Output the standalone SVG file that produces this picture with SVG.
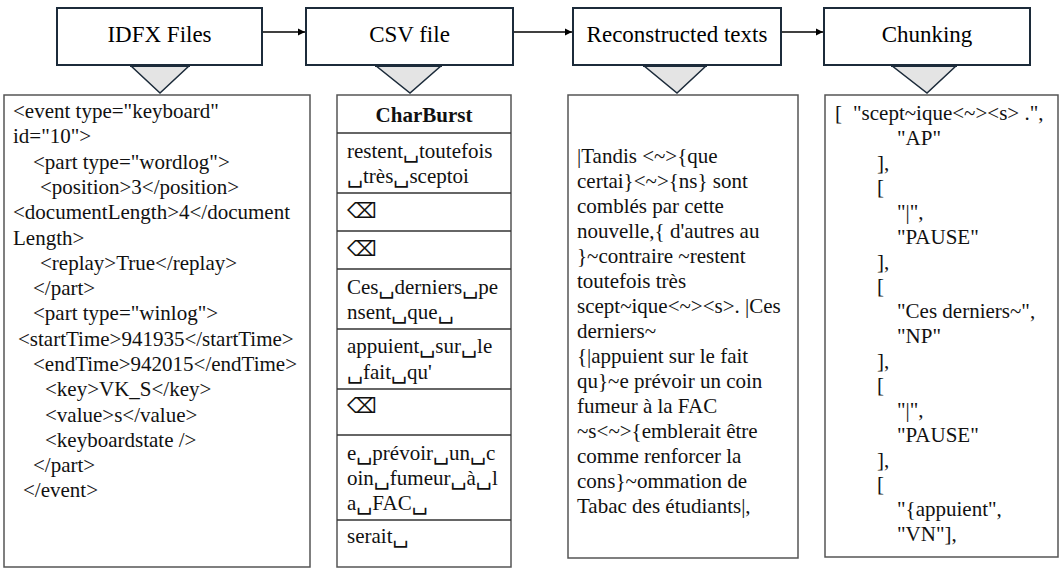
<svg xmlns="http://www.w3.org/2000/svg" width="1061" height="569" viewBox="0 0 1061 569">
<style>
.hdr{fill:#fff;stroke:#1c2b3a;stroke-width:2}
.ht{font-family:'Liberation Serif','Times New Roman',serif;font-size:23px;fill:#000;text-anchor:middle}
.tri{fill:#e4e4e4;stroke:#1c2b3a;stroke-width:1.5;stroke-linejoin:miter}
.panel{fill:#fff;stroke:#555;stroke-width:1.5}
.t{font-family:'Liberation Serif','DejaVu Serif',serif;font-size:21px;fill:#111}
.b{font-weight:bold;text-anchor:middle}
.sep{stroke:#333;stroke-width:1.5}
.conn{stroke:#000;stroke-width:1.5;fill:none}
</style>
<defs>
<marker id="ah" markerWidth="8" markerHeight="8" refX="7" refY="4" orient="auto" markerUnits="userSpaceOnUse">
<path d="M0,0.5 L7,4 L0,7.5 Z" fill="#000"/>
</marker>
</defs>
<g id="connectors">
<line class="conn" x1="263" y1="32" x2="305" y2="32" marker-end="url(#ah)"/>
<line class="conn" x1="514" y1="32" x2="572" y2="32" marker-end="url(#ah)"/>
<line class="conn" x1="782" y1="32" x2="823" y2="32" marker-end="url(#ah)"/>
<polygon class="tri" points="130,65 190,65 160,93"/>
<polygon class="tri" points="375,65 442,65 410,93"/>
<polygon class="tri" points="643,65 707,65 677,93"/>
<polygon class="tri" points="891,65 957,65 927,93"/>
<line x1="130" y1="65.5" x2="190" y2="65.5" stroke="#1c2b3a" stroke-width="3"/>
<line x1="375" y1="65.5" x2="442" y2="65.5" stroke="#1c2b3a" stroke-width="3"/>
<line x1="643" y1="65.5" x2="707" y2="65.5" stroke="#1c2b3a" stroke-width="3"/>
<line x1="891" y1="65.5" x2="957" y2="65.5" stroke="#1c2b3a" stroke-width="3"/>
</g>
<g id="idfx-files">
<rect class="hdr" x="57" y="8" width="205" height="57"/>
<text class="ht" x="159.5" y="42">IDFX Files</text>
</g>
<g id="csv-file">
<rect class="hdr" x="306" y="8" width="207" height="57"/>
<text class="ht" x="409.5" y="42">CSV file</text>
</g>
<g id="reconstructed-texts">
<rect class="hdr" x="573" y="8" width="208" height="57"/>
<text class="ht" x="677" y="42">Reconstructed texts</text>
</g>
<g id="chunking">
<rect class="hdr" x="824" y="8" width="206" height="57"/>
<text class="ht" x="927" y="42">Chunking</text>
</g>
<g id="idfx-panel">
<rect class="panel" x="4" y="95" width="306" height="472"/>
<text class="t" x="13" y="118">&lt;event type="keyboard"</text>
<text class="t" x="13" y="143">id="10"&gt;</text>
<text class="t" x="33" y="169">&lt;part type="wordlog"&gt;</text>
<text class="t" x="40" y="194">&lt;position&gt;3&lt;/position&gt;</text>
<text class="t" x="13" y="219">&lt;documentLength&gt;4&lt;/document</text>
<text class="t" x="13" y="245">Length&gt;</text>
<text class="t" x="40" y="270">&lt;replay&gt;True&lt;/replay&gt;</text>
<text class="t" x="33" y="295">&lt;/part&gt;</text>
<text class="t" x="33" y="320">&lt;part type="winlog"&gt;</text>
<text class="t" x="18" y="346">&lt;startTime&gt;941935&lt;/startTime&gt;</text>
<text class="t" x="33" y="371">&lt;endTime&gt;942015&lt;/endTime&gt;</text>
<text class="t" x="45" y="396">&lt;key&gt;VK_S&lt;/key&gt;</text>
<text class="t" x="45" y="422">&lt;value&gt;s&lt;/value&gt;</text>
<text class="t" x="45" y="447">&lt;keyboardstate /&gt;</text>
<text class="t" x="33" y="472">&lt;/part&gt;</text>
<text class="t" x="23" y="497">&lt;/event&gt;</text>
</g>
<g id="csv-panel">
<rect class="panel" x="337" y="95" width="174" height="472"/>
<line class="sep" x1="337" y1="133" x2="511" y2="133"/>
<line class="sep" x1="337" y1="193" x2="511" y2="193"/>
<line class="sep" x1="337" y1="231" x2="511" y2="231"/>
<line class="sep" x1="337" y1="269" x2="511" y2="269"/>
<line class="sep" x1="337" y1="329" x2="511" y2="329"/>
<line class="sep" x1="337" y1="389" x2="511" y2="389"/>
<line class="sep" x1="337" y1="435" x2="511" y2="435"/>
<line class="sep" x1="337" y1="520" x2="511" y2="520"/>
<text class="t b" x="424" y="122">CharBurst</text>
<text class="t" x="347" y="158">restent␣toutefois</text>
<text class="t" x="347" y="183">␣très␣sceptoi</text>
<text class="t" x="347" y="218">⌫</text>
<text class="t" x="347" y="256">⌫</text>
<text class="t" x="347" y="294">Ces␣derniers␣pe</text>
<text class="t" x="347" y="319">nsent␣que␣</text>
<text class="t" x="347" y="353">appuient␣sur␣le</text>
<text class="t" x="347" y="379">␣fait␣qu'</text>
<text class="t" x="347" y="413">⌫</text>
<text class="t" x="347" y="460">e␣prévoir␣un␣c</text>
<text class="t" x="347" y="485">oin␣fumeur␣à␣l</text>
<text class="t" x="347" y="510">a␣FAC␣</text>
<text class="t" x="347" y="543">serait␣</text>
</g>
<g id="reconstructed-panel">
<rect class="panel" x="568" y="95" width="230" height="463"/>
<text class="t" x="577" y="163">|Tandis &lt;~&gt;{que</text>
<text class="t" x="577" y="188">certai}&lt;~&gt;{ns} sont</text>
<text class="t" x="577" y="213">comblés par cette</text>
<text class="t" x="577" y="238">nouvelle,{ d'autres au</text>
<text class="t" x="577" y="263">}~contraire ~restent</text>
<text class="t" x="577" y="288">toutefois très</text>
<text class="t" x="577" y="313">scept~ique&lt;~&gt;&lt;s&gt;. |Ces</text>
<text class="t" x="577" y="338">derniers~</text>
<text class="t" x="577" y="363">{|appuient sur le fait</text>
<text class="t" x="577" y="388">qu}~e prévoir un coin</text>
<text class="t" x="577" y="413">fumeur à la FAC</text>
<text class="t" x="577" y="438">~s&lt;~&gt;{emblerait être</text>
<text class="t" x="577" y="463">comme renforcer la</text>
<text class="t" x="577" y="488">cons}~ommation de</text>
<text class="t" x="577" y="513">Tabac des étudiants|,</text>
</g>
<g id="chunking-panel">
<rect class="panel" x="825" y="95" width="233" height="462"/>
<text class="t" x="835" y="120">[</text>
<text class="t" x="853" y="120">"scept~ique&lt;~&gt;&lt;s&gt; .",</text>
<text class="t" x="897" y="145">"AP"</text>
<text class="t" x="877" y="170">],</text>
<text class="t" x="877" y="194">[</text>
<text class="t" x="897" y="219">"|",</text>
<text class="t" x="897" y="244">"PAUSE"</text>
<text class="t" x="877" y="269">],</text>
<text class="t" x="877" y="293">[</text>
<text class="t" x="897" y="318">"Ces derniers~",</text>
<text class="t" x="897" y="343">"NP"</text>
<text class="t" x="877" y="368">],</text>
<text class="t" x="877" y="392">[</text>
<text class="t" x="897" y="417">"|",</text>
<text class="t" x="897" y="442">"PAUSE"</text>
<text class="t" x="877" y="467">],</text>
<text class="t" x="877" y="491">[</text>
<text class="t" x="897" y="516">"{appuient",</text>
<text class="t" x="897" y="541">"VN"],</text>
</g>
</svg>
